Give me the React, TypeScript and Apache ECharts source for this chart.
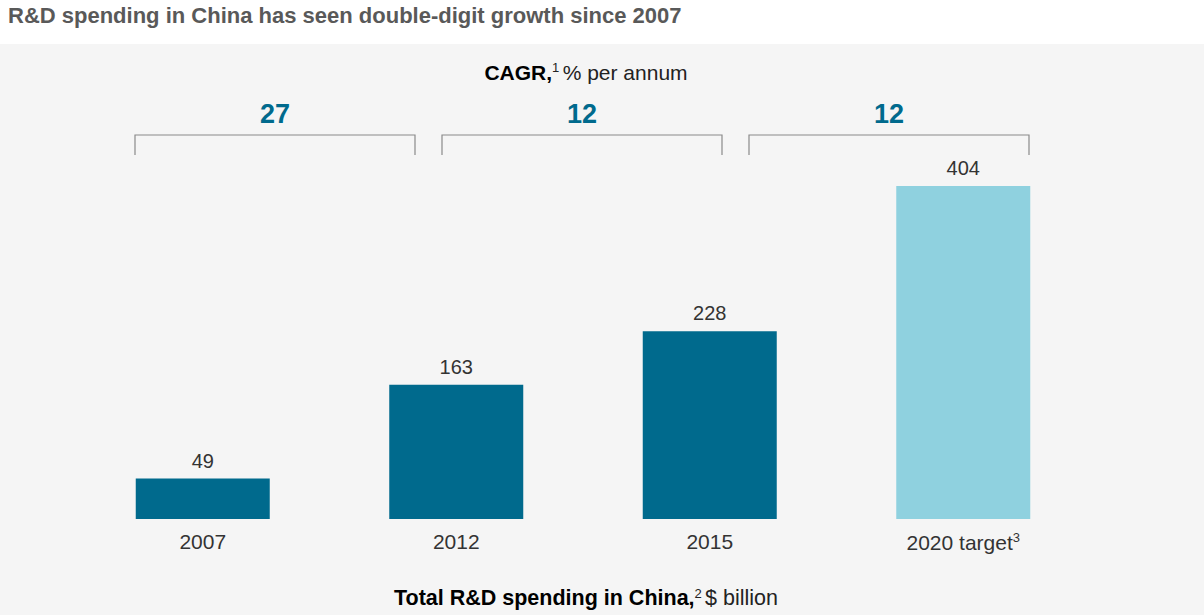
import React, { useEffect, useRef } from "react";
import * as echarts from "echarts";

const categories = ["2007", "2012", "2015", "2020 target"];
const spending = [49, 163, 228, 404];
const isTarget = [false, false, false, true];
const cagrPeriods = ["2007-2012", "2012-2015", "2015-2020"];
const cagrValues = [27, 12, 12];

const DARK = "#006a8d";
const LIGHT = "#8fd1df";
const FONT = "'Liberation Sans', Arial, Helvetica, sans-serif";

export default function App() {
  const ref = useRef<HTMLDivElement>(null);
  useEffect(() => {
    if (!ref.current) return;
    const chart = echarts.init(ref.current, null, { renderer: "svg" });
    const option: any = {
      animation: false,
      backgroundColor: "#ffffff",
      textStyle: { fontFamily: FONT },
      graphic: [
        { type: "rect", left: 0, top: 44, z: -10, shape: { width: 1204, height: 571 }, style: { fill: "#f5f5f5" } },
        {
          type: "text", left: 8, top: 4,
          style: { text: "R&D spending in China has seen double-digit growth since 2007", fill: "#595959", font: `bold 22px ${FONT}` },
        },
        {
          type: "text", x: 586, y: 72,
          style: {
            text: "{b|CAGR,}{s|1} {n|% per annum}",
            align: "center", verticalAlign: "middle",
            rich: {
              b: { fontFamily: FONT, fontWeight: "bold", fontSize: 21, fill: "#000" },
              s: { fontFamily: FONT, fontSize: 13, fill: "#222", verticalAlign: "top", padding: [0, 0, 9, 0] },
              n: { fontFamily: FONT, fontSize: 21, fill: "#222" },
            },
          },
        },
        {
          type: "text", x: 586, y: 598,
          style: {
            text: "{b|Total R&D spending in China,}{s|2} {n|$ billion}",
            align: "center", verticalAlign: "middle",
            rich: {
              b: { fontFamily: FONT, fontWeight: "bold", fontSize: 21.5, fill: "#000" },
              s: { fontFamily: FONT, fontSize: 13, fill: "#222", verticalAlign: "top", padding: [0, 0, 9, 0] },
              n: { fontFamily: FONT, fontSize: 21.5, fill: "#222" },
            },
          },
        },
      ],
      grid: [
        { left: 76, width: 1014, top: 107, bottom: 96, containLabel: false },
        { left: 121.5, width: 921, top: 135, height: 20, containLabel: false },
      ],
      xAxis: [
        {
          type: "category", gridIndex: 0, data: categories,
          axisLine: { show: false }, axisTick: { show: false },
          axisLabel: {
            margin: 12, fontSize: 21, color: "#333", fontFamily: FONT,
            formatter: (v: string) => (v === "2020 target" ? "{n|2020 target}{s|3}" : "{n|" + v + "}"),
            rich: {
              n: { fontSize: 21, color: "#333", fontFamily: FONT },
              s: { fontSize: 13, color: "#333", fontFamily: FONT, verticalAlign: "top", padding: [0, 0, 9, 0] },
            },
          },
        },
        {
          type: "category", gridIndex: 1, data: cagrPeriods,
          axisLine: { show: false }, axisTick: { show: false }, axisLabel: { show: false },
        },
      ],
      yAxis: [
        { type: "value", gridIndex: 0, min: 0, max: 500, show: false, splitLine: { show: false } },
        { type: "value", gridIndex: 1, min: 0, max: 1, show: false, splitLine: { show: false } },
      ],
      series: [
        {
          type: "bar", xAxisIndex: 0, yAxisIndex: 0, barWidth: 134,
          data: spending.map((v, i) => ({ value: v, itemStyle: { color: isTarget[i] ? LIGHT : DARK } })),
          label: { show: true, position: "top", distance: 8, fontSize: 20, color: "#333", fontFamily: FONT },
        },
        {
          type: "custom", xAxisIndex: 1, yAxisIndex: 1,
          data: cagrValues.map((v, i) => [i, v]),
          renderItem: (params: any, api: any) => {
            const idx = api.value(0);
            const top = api.coord([idx, 1]);
            const bottom = api.coord([idx, 0]);
            const band = api.size([1, 0])[0];
            const half = (band * 280) / 307 / 2;
            return {
              type: "group",
              children: [
                {
                  type: "polyline",
                  shape: { points: [[top[0] - half, bottom[1]], [top[0] - half, top[1]], [top[0] + half, top[1]], [top[0] + half, bottom[1]]] },
                  style: { stroke: "#8a8a8a", lineWidth: 1.2, fill: "none" },
                },
                {
                  type: "text",
                  x: top[0], y: top[1] - 21,
                  style: { text: String(api.value(1)), align: "center", verticalAlign: "middle", fill: DARK, font: `bold 27px ${FONT}` },
                },
              ],
            };
          },
        },
      ],
    };
    chart.setOption(option);
    return () => chart.dispose();
  }, []);
  return <div ref={ref} style={{ position: "absolute", left: 0, top: 0, width: 1204, height: 615 }} />;
}
